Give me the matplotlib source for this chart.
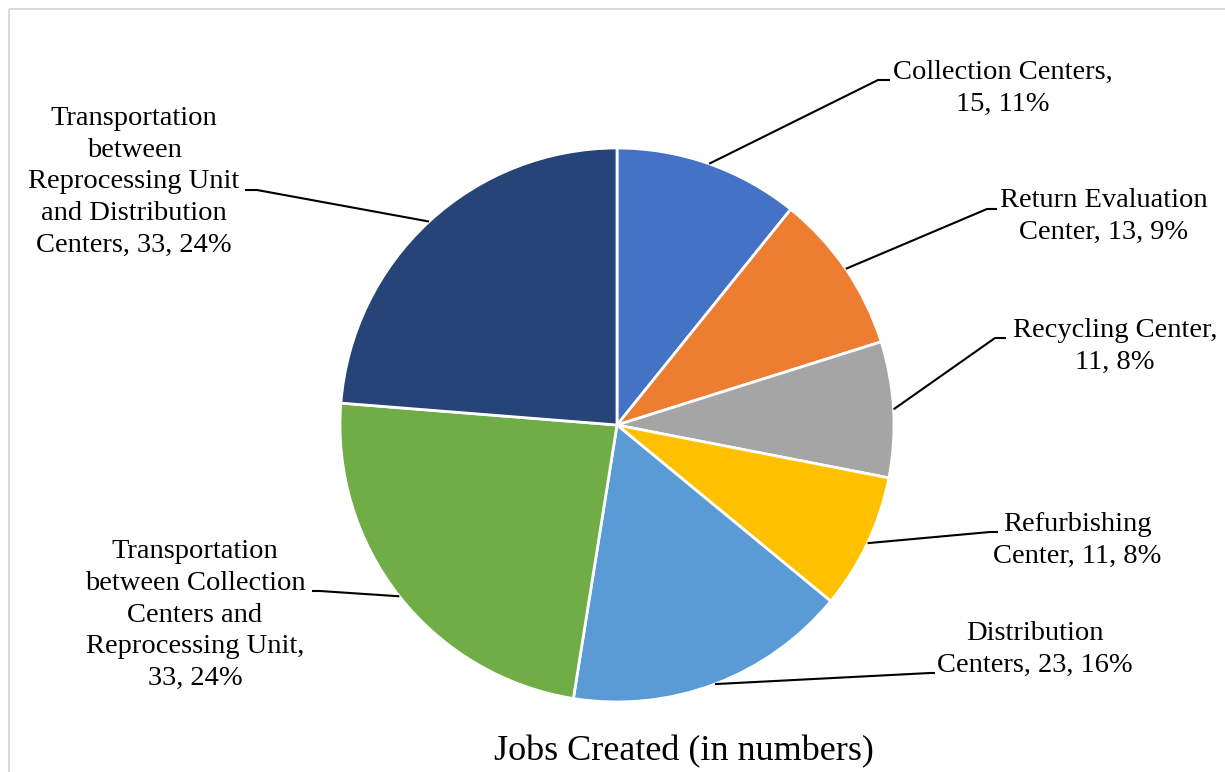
import numpy as np
import matplotlib
matplotlib.use("Agg")
import matplotlib.pyplot as plt
from matplotlib.patches import Rectangle

plt.rcParams['font.family'] = ['Liberation Serif', 'DejaVu Serif']

# data
categories = ["Collection Centers", "Return Evaluation Center", "Recycling Center",
              "Refurbishing Center", "Distribution Centers",
              "Transportation between Collection Centers and Reprocessing Unit",
              "Transportation between Reprocessing Unit and Distribution Centers"]
jobs = [15, 13, 11, 11, 23, 33, 33]
pct_labels = ["11%", "9%", "8%", "8%", "16%", "24%", "24%"]

# label text as wrapped in the figure
label_text = [
    "Collection Centers,\n15, 11%",
    "Return Evaluation\nCenter, 13, 9%",
    "Recycling Center,\n11, 8%",
    "Refurbishing\nCenter, 11, 8%",
    "Distribution\nCenters, 23, 16%",
    "Transportation\nbetween Collection\nCenters and\nReprocessing Unit,\n33, 24%",
    "Transportation\nbetween\nReprocessing Unit\nand Distribution\nCenters, 33, 24%",
]
colors = ["#4472C4", "#ED7D31", "#A5A5A5", "#FFC000", "#5B9BD5", "#70AD47", "#264478"]

W, H = 1225, 772
CX, CY, R = 617, 425, 277   # pie centre / radius in pixels

# label layout (pixels, y down)
label_pos = [(1003, 88), (1104, 216), (1115, 346), (1077, 540),
             (1035, 649), (195, 615), (134, 182)]
leader_bend = [(878, 80), (987, 209), (995, 338), (990, 532),
               (930, 673), (320, 591), (257, 190)]
leader_end = [(890, 80), (997, 209), (1006, 338), (998, 532),
              (935, 673), (312, 591), (245, 190)]

fig = plt.figure(figsize=(W / 100, H / 100), dpi=100)

# pie axes
ax = fig.add_axes([(CX - R) / W, (H - CY - R) / H, 2 * R / W, 2 * R / H])
ax.pie(jobs, colors=colors, startangle=90, counterclock=False, radius=1,
       wedgeprops=dict(edgecolor="white", linewidth=2))
ax.set_xlim(-1, 1)
ax.set_ylim(-1, 1)
ax.set_aspect("equal")
ax.axis("off")

# overlay for labels and leaders
ov = fig.add_axes([0, 0, 1, 1], facecolor="none")
ov.set_xlim(0, W)
ov.set_ylim(H, 0)
ov.axis("off")

ov.add_patch(Rectangle((9, 9), W + 20, H + 20, fill=False,
                       edgecolor="#D9D9D9", linewidth=1.5))

total = sum(jobs)
cum = np.cumsum([0] + jobs)
for i, txt in enumerate(label_text):
    mid = (cum[i] + cum[i + 1]) / 2 / total * 360
    theta = np.deg2rad(90 - mid)
    ax_pt = (CX + R * np.cos(theta), CY - R * np.sin(theta))
    bx, by = leader_bend[i]
    ex, ey = leader_end[i]
    ov.plot([ax_pt[0], bx, ex], [ax_pt[1], by, ey], color="black", lw=1.5,
            solid_capstyle="butt")
    ov.text(label_pos[i][0], label_pos[i][1], txt, ha="center", va="center",
            fontsize=20.5, linespacing=1.36, color="black")

ov.text(684, 752, "Jobs Created (in numbers)", ha="center", va="center",
        fontsize=26, color="black")

fig.savefig("out.png", dpi=100)
